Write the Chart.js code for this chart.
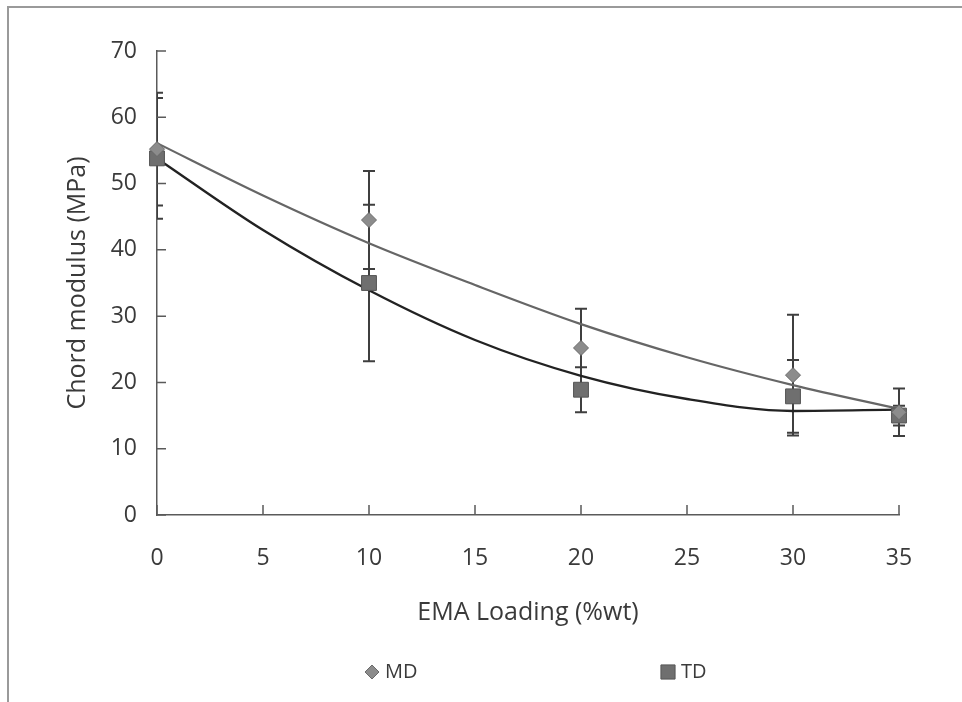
<!DOCTYPE html>
<html>
<head>
<meta charset="utf-8">
<script src="https://cdn.jsdelivr.net/npm/chart.js@4.4.1/dist/chart.umd.min.js"></script>
<style>
  html, body { margin: 0; padding: 0; background: #fff; }
  #wrap { position: relative; width: 962px; height: 702px; }
  #frame { position: absolute; left: 7px; top: 6px; right: -10px; bottom: -10px;
           border-top: 2px solid #9a9a9a; border-left: 2px solid #9a9a9a; pointer-events: none; }
</style>
</head>
<body>
<div id="wrap">
  <canvas id="myChart" width="962" height="702"></canvas>
  <div id="frame"></div>
</div>
<script>
// values
const loading = [0, 10, 20, 30, 35];
const mdValues = [55.2, 44.5, 25.2, 21.1, 15.5];
const mdError = [8.5, 7.4, 5.9, 9.1, 3.6];
const tdValues = [53.8, 35.0, 18.9, 17.9, 15.0];
const tdError = [9.1, 11.8, 3.4, 5.5, 1.5];

// trend curves (read at every 5 %wt)
const trendX = [0, 5, 10, 15, 20, 25, 30, 35];
const mdTrend = [56.1, 48.2, 41.0, 34.7, 28.8, 23.8, 19.6, 16.0];
const tdTrend = [53.8, 43.0, 33.9, 26.4, 21.0, 17.5, 15.7, 15.9];

const xTicks = [0, 5, 10, 15, 20, 25, 30, 35];
const yTicks = [0, 10, 20, 30, 40, 50, 60, 70];

const fontFam = "'Open Sans', 'DejaVu Sans', sans-serif";
const textColor = "#3a3a3a";
const axisColor = "#5a5a5a";

function pts(xs, ys) {
  return xs.map((x, i) => ({ x: x, y: ys[i] }));
}

// error bars under the markers
const errorBars = {
  id: "errorBars",
  beforeDatasetsDraw(chart) {
    const ctx = chart.ctx;
    const xs = chart.scales.x, ys = chart.scales.y;
    const a = chart.chartArea;
    ctx.save();
    ctx.beginPath();
    ctx.rect(a.left, 0, a.right - a.left + 40, chart.height);
    ctx.clip();
    ctx.strokeStyle = "#3f3f3f";
    ctx.lineWidth = 2;
    const sets = [[mdValues, mdError], [tdValues, tdError]];
    for (const [vals, errs] of sets) {
      loading.forEach((x, i) => {
        const px = xs.getPixelForValue(x);
        const top = ys.getPixelForValue(vals[i] + errs[i]);
        const bot = ys.getPixelForValue(vals[i] - errs[i]);
        ctx.beginPath();
        ctx.moveTo(px, top); ctx.lineTo(px, bot);
        ctx.moveTo(px - 6, top); ctx.lineTo(px + 6, top);
        ctx.moveTo(px - 6, bot); ctx.lineTo(px + 6, bot);
        ctx.stroke();
      });
    }
    ctx.restore();
  }
};

// inward tick marks + legend
const extras = {
  id: "extras",
  afterDraw(chart) {
    const ctx = chart.ctx;
    const xs = chart.scales.x, ys = chart.scales.y;
    const a = chart.chartArea;
    ctx.save();
    ctx.strokeStyle = axisColor;
    ctx.lineWidth = 1.5;
    ctx.beginPath();
    xTicks.forEach(v => {
      const px = xs.getPixelForValue(v);
      ctx.moveTo(px, a.bottom); ctx.lineTo(px, a.bottom - 10);
    });
    yTicks.forEach(v => {
      const py = ys.getPixelForValue(v);
      ctx.moveTo(a.left, py); ctx.lineTo(a.left + 9, py);
    });
    ctx.stroke();

    // legend
    const ly = 672;
    ctx.font = "20px " + fontFam;
    ctx.textBaseline = "middle";
    ctx.lineWidth = 1;
    ctx.fillStyle = "#8c8c8c";
    ctx.strokeStyle = "#6a6a6a";
    Chart.helpers.drawPoint(ctx, { pointStyle: "rectRot", radius: 7, borderWidth: 1 }, 372, ly);
    ctx.fillStyle = "#6f6f6f";
    ctx.strokeStyle = "#555";
    Chart.helpers.drawPoint(ctx, { pointStyle: "rect", radius: 10, borderWidth: 1 }, 668, ly);
    ctx.fillStyle = textColor;
    ctx.fillText("MD", 385, ly);
    ctx.fillText("TD", 681, ly);
    ctx.restore();
  }
};

const ctx = document.getElementById("myChart").getContext("2d");
const myChart = new Chart(ctx, {
  data: {
    datasets: [
      {
        type: "scatter",
        label: "MD",
        data: pts(loading, mdValues),
        pointStyle: "rectRot",
        pointRadius: 7.5,
        backgroundColor: "#8c8c8c",
        borderColor: "#6a6a6a",
        borderWidth: 1,
        order: 0
      },
      {
        type: "scatter",
        label: "TD",
        data: pts(loading, tdValues),
        pointStyle: "rect",
        pointRadius: 10.5,
        backgroundColor: "#6f6f6f",
        borderColor: "#555555",
        borderWidth: 1,
        order: 0
      },
      {
        type: "line",
        label: "MD trend",
        data: pts(trendX, mdTrend),
        borderColor: "#666666",
        borderWidth: 2.2,
        pointRadius: 0,
        cubicInterpolationMode: "monotone",
        fill: false,
        order: 1
      },
      {
        type: "line",
        label: "TD trend",
        data: pts(trendX, tdTrend),
        borderColor: "#222222",
        borderWidth: 2.4,
        pointRadius: 0,
        cubicInterpolationMode: "monotone",
        fill: false,
        order: 1
      }
    ]
  },
  options: {
    responsive: false,
    animation: false,
    clip: false,
    layout: { padding: { left: 61, top: 51, right: 63, bottom: 73 } },
    plugins: {
      legend: { display: false },
      tooltip: { enabled: false }
    },
    scales: {
      x: {
        type: "linear",
        min: 0,
        max: 35,
        afterBuildTicks: s => { s.ticks = xTicks.map(v => ({ value: v })); },
        afterFit: s => { s.height = 114; },
        grid: { display: false, drawTicks: false },
        border: { display: true, color: axisColor, width: 1.5 },
        ticks: { color: textColor, padding: 30, font: { family: fontFam, size: 23 } },
        title: {
          display: true,
          text: "EMA Loading (%wt)",
          color: textColor,
          font: { family: fontFam, size: 25 },
          padding: { top: 0, bottom: 1 }
        }
      },
      y: {
        type: "linear",
        min: 0,
        max: 70,
        afterBuildTicks: s => { s.ticks = yTicks.map(v => ({ value: v })); },
        afterFit: s => { s.width = 96; },
        grid: { display: false, drawTicks: false },
        border: { display: true, color: axisColor, width: 1.5 },
        ticks: { color: textColor, padding: 20, font: { family: fontFam, size: 23 } },
        title: {
          display: true,
          text: "Chord modulus (MPa)",
          color: textColor,
          font: { family: fontFam, size: 25 },
          padding: { top: 2, bottom: 0 }
        }
      }
    }
  },
  plugins: [errorBars, extras]
});
</script>
</body>
</html>
